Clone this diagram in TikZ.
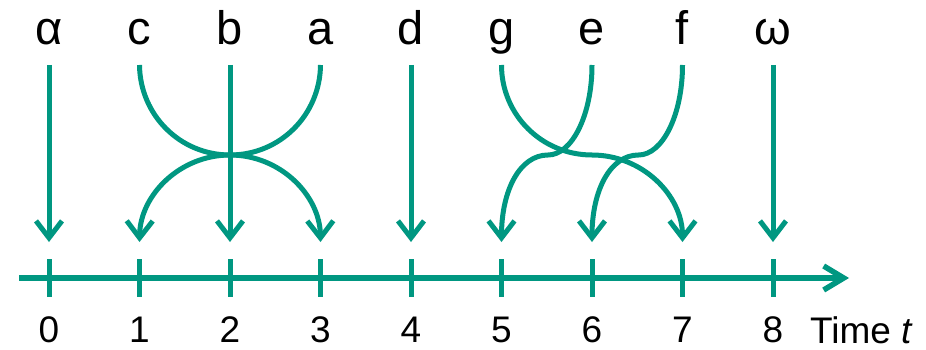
\documentclass[tikz,border=0pt]{standalone}
\usepackage{fontspec}
\setmainfont{Liberation Sans}
\usetikzlibrary{arrows.meta}
\definecolor{teal}{RGB}{0,151,129}
\tikzset{
  flow/.style={draw=teal, line width=5pt, -{Straight Barb[length=17pt,width=26pt]}},
  axisline/.style={draw=teal, line width=5.5pt, -{Straight Barb[length=20pt,width=24pt]}},
  tick/.style={draw=teal, line width=5pt},
  label/.style={font=\fontsize{47}{47}\selectfont, anchor=base, inner sep=0pt},
  num/.style={font=\fontsize{37}{37}\selectfont, anchor=base, inner sep=0pt},
}
\begin{document}
\begin{tikzpicture}[x=1pt, y=-1pt]
  \useasboundingbox (0,0) rectangle (926,350);
  % column positions along the time axis
  \foreach \i in {0,...,8} {
    \pgfmathsetmacro{\xx}{49+90.5*\i}
    \coordinate (s\i) at (\xx,65);
    \coordinate (t\i) at (\xx,242);
    \coordinate (k\i) at (\xx,259);
    \coordinate (kb\i) at (\xx,297);
    \node[num] (n\i) at (\xx,342) {\i};
    \draw[tick] (k\i) -- (kb\i);
  }
  % symbols in their initial order
  \node[label] (la) at (s0 |- 0,45) {α};
  \node[label] (lc) at (s1 |- 0,45) {c};
  \node[label] (lb) at (s2 |- 0,45) {b};
  \node[label] (lA) at (s3 |- 0,45) {a};
  \node[label] (ld) at (s4 |- 0,45) {d};
  \node[label] (lg) at (s5 |- 0,45) {g};
  \node[label] (le) at (s6 |- 0,45) {e};
  \node[label] (lf) at (s7 |- 0,45) {f};
  \node[label] (lw) at (s8 |- 0,45) {ω};

  % time axis
  \coordinate (ax0) at (19,278);
  \coordinate (ax1) at (849,278);
  \draw[axisline] (ax0) -- (ax1);
  \node[num, anchor=base west] (time) at (810,343) {Time \textit{t}};

  % symbols that keep their place
  \draw[flow] (s0) -- (t0);
  \draw[flow] (s2) -- (t2);
  \draw[flow] (s4) -- (t4);
  \draw[flow] (s8) -- (t8);

  % reversal of c b a around the midpoint
  \coordinate (m1) at (230,155);
  \draw[flow] (s1) .. controls (140,115) and (180,155) .. (m1)
                   .. controls (280,155) and (320,195) .. (t3);
  \draw[flow] (s3) .. controls (320,115) and (280,155) .. (m1)
                   .. controls (180,155) and (140,195) .. (t1);

  % rotation of g e f
  \coordinate (mg) at (592,155);
  \coordinate (me) at (548,155);
  \coordinate (mf) at (638.5,155);
  \draw[flow] (s5) .. controls (501.5,115) and (542,155) .. (mg)
                   .. controls (642,155) and (682.5,195) .. (t7);
  \draw[flow] (s6) .. controls (592,115) and (572,155) .. (me)
                   .. controls (520,155) and (501.5,190) .. (t5);
  \draw[flow] (s7) .. controls (682.5,115) and (662.5,155) .. (mf)
                   .. controls (610.5,155) and (592,190) .. (t6);
\end{tikzpicture}
\end{document}
